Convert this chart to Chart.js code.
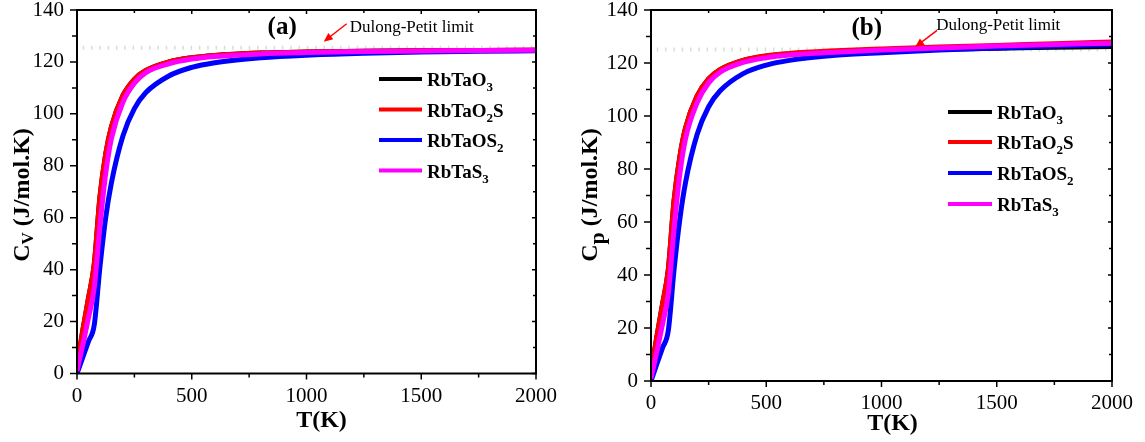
<!DOCTYPE html>
<html><head><meta charset="utf-8">
<script src="https://cdn.jsdelivr.net/npm/chart.js@4/dist/chart.umd.min.js"></script>
<style>
html,body{margin:0;padding:0;background:#fff;width:1145px;height:442px;overflow:hidden}
canvas{position:absolute;top:0}
#ca{left:0}
#cb{left:570px}
</style></head><body>
<canvas id="ca" width="565" height="442"></canvas>
<canvas id="cb" width="575" height="442"></canvas>
<script>
// ---------- data ----------
const temperature = [0,25,50,75,100,125,150,200,250,300,400,500,600,800,1000,1250,1500,1750,2000];
const seriesNames = ['RbTaO_3','RbTaO_2S','RbTaOS_2','RbTaS_3'];
const seriesColors = ['#000000','#ff0000','#0000ff','#ff00ff'];

// (a) Cv
const cvRbTaO3  = [3,16.5,29,42,68,84.5,95,107,113.3,116.7,120,121.6,122.5,123.4,123.8,124.1,124.3,124.4,124.5];
const cvRbTaO2S = [3,16.5,29,42,68,84.5,95,107,113.3,116.7,120,121.6,122.5,123.4,123.8,124.1,124.3,124.4,124.5];
const cvRbTaOS2 = [0,6.2,12.4,18.6,41,60,73.5,91.5,102,108.2,114.6,117.9,119.7,121.6,122.6,123.3,123.8,124.1,124.3];
const cvRbTaS3  = [1,11,21.5,33,57,77,90.5,104.5,111.8,115.9,119.3,121.1,122.1,123.1,123.6,124.0,124.2,124.4,124.5];

// (b) Cp
const cpRbTaO3  = [3,16.5,29,42,68,84.5,95.5,107.5,114,117.5,121,122.6,123.4,124.2,124.7,125.2,125.6,125.9,126.2];
const cpRbTaO2S = [3,16.5,29,42,68,84.5,95.5,107.5,114,117.5,121,122.7,123.6,124.6,125.3,126.0,126.6,127.3,127.9];
const cpRbTaOS2 = [0,6.3,12.5,19,42,61,75,93,103.5,109.5,116,119.2,121,122.9,123.9,124.9,125.7,126.4,127.0];
const cpRbTaS3  = [1,11,21.5,33,57.5,78,91.5,105,112.5,116.5,120.2,122,123,124.1,124.9,125.7,126.4,127.0,127.5];

// Dulong-Petit reference level
const dulongPetitT = [25,2000];
const dulongPetitCv = [125.5,125.5];
const dulongPetitCp = [125.1,125.1];

const xTicks = [0,500,1000,1500,2000];
const yTicks = [0,20,40,60,80,100,120,140];

// ---------- helpers ----------
const SERIF = '"Liberation Serif","Times New Roman",serif';
Chart.defaults.font.family = SERIF;
function pts(xs, ys){ return xs.map((x,i)=>({x:x,y:ys[i]})); }

function drawRich(ctx, segs, x, y){
  let cx = x;
  segs.forEach(s=>{
    ctx.font = 'bold '+s.size+'px '+SERIF;
    ctx.fillText(s.t, cx, y + (s.dy||0));
    cx += ctx.measureText(s.t).width;
  });
  return cx - x;
}
function richWidth(ctx, segs){
  let w=0;
  segs.forEach(s=>{ctx.font='bold '+s.size+'px '+SERIF; w+=ctx.measureText(s.t).width;});
  return w;
}
function parseLabel(lbl, size, subSize, subDy){
  const segs=[]; let i=0, buf='';
  while(i<lbl.length){
    if(lbl[i]==='_'){ if(buf){segs.push({t:buf,size:size});buf='';} segs.push({t:lbl[i+1],size:subSize,dy:subDy}); i+=2; }
    else { buf+=lbl[i]; i++; }
  }
  if(buf) segs.push({t:buf,size:size});
  return segs;
}

const decorPlugin = {
  id:'decor',
  afterDatasetsDraw(chart){
    const ctx = chart.ctx, a = chart.chartArea;
    const xs = chart.scales.x, ys = chart.scales.y;
    ctx.save();
    ctx.strokeStyle='#000'; ctx.lineWidth=2;
    ctx.strokeRect(a.left, a.top, a.right-a.left, a.bottom-a.top);
    ctx.lineWidth=1.5;
    for(let v=0; v<=140; v+=10){
      const y = ys.getPixelForValue(v);
      const major = v%20===0;
      ctx.beginPath();
      ctx.moveTo(a.left-(major?7:5), y); ctx.lineTo(a.left, y);
      ctx.moveTo(a.right, y); ctx.lineTo(a.right-(major?4:3), y);
      ctx.stroke();
    }
    for(let t=0; t<=2000; t+=250){
      const x = xs.getPixelForValue(t);
      const major = t%500===0;
      ctx.beginPath();
      ctx.moveTo(x, a.bottom); ctx.lineTo(x, a.bottom+(major?6:4));
      ctx.moveTo(x, a.top); ctx.lineTo(x, a.top+(major?4:3));
      ctx.stroke();
    }
    ctx.restore();
  },
  afterDraw(chart){
    const o = chart.options.plugins.decor;
    const ctx = chart.ctx, a = chart.chartArea;
    const xs = chart.scales.x, ys = chart.scales.y;
    ctx.save();
    ctx.fillStyle='#000';
    ctx.font='bold 25px '+SERIF; ctx.textAlign='center'; ctx.textBaseline='middle';
    ctx.fillText(o.panel, xs.getPixelForValue(o.panelT), ys.getPixelForValue(o.panelV));
    ctx.font='17px '+SERIF; ctx.textAlign='left'; ctx.textBaseline='middle';
    ctx.fillText('Dulong-Petit limit', xs.getPixelForValue(o.dpTextT), ys.getPixelForValue(o.dpTextV));
    const x1=xs.getPixelForValue(o.arrow[0]), y1=ys.getPixelForValue(o.arrow[1]);
    const x2=xs.getPixelForValue(o.arrow[2]), y2=ys.getPixelForValue(o.arrow[3]);
    ctx.strokeStyle='#ff0000'; ctx.fillStyle='#ff0000'; ctx.lineWidth=1.5;
    const ang=Math.atan2(y2-y1,x2-x1);
    ctx.beginPath(); ctx.moveTo(x1,y1); ctx.lineTo(x2-6*Math.cos(ang),y2-6*Math.sin(ang)); ctx.stroke();
    ctx.beginPath(); ctx.moveTo(x2,y2);
    ctx.lineTo(x2-9*Math.cos(ang)+4*Math.sin(ang), y2-9*Math.sin(ang)-4*Math.cos(ang));
    ctx.lineTo(x2-9*Math.cos(ang)-4*Math.sin(ang), y2-9*Math.sin(ang)+4*Math.cos(ang));
    ctx.closePath(); ctx.fill();
    ctx.fillStyle='#000'; ctx.textAlign='left'; ctx.textBaseline='alphabetic';
    seriesNames.forEach((n,i)=>{
      const y = o.legendRows[i];
      ctx.strokeStyle=seriesColors[i]; ctx.lineWidth=4;
      ctx.beginPath(); ctx.moveTo(o.legendX[0],y); ctx.lineTo(o.legendX[1],y); ctx.stroke();
      ctx.fillStyle='#000';
      drawRich(ctx, parseLabel(n,19,13,5), o.legendX[2], y+7);
    });
    ctx.font='bold 24px '+SERIF; ctx.textAlign='center'; ctx.textBaseline='middle';
    ctx.fillText('T(K)', (a.left+a.right)/2 + o.xTitleDx, o.xTitleY);
    ctx.translate(o.yTitle[0], o.yTitle[1]);
    ctx.rotate(-Math.PI/2);
    ctx.textAlign='left'; ctx.textBaseline='middle';
    const segs = o.ySegs;
    const w = richWidth(ctx, segs);
    drawRich(ctx, segs, -w/2, 0);
    ctx.restore();
  }
};

function buildChart(id, data4, dpVals, dims, decor){
  const datasets = [{
    label:'Dulong-Petit', data: pts(dulongPetitT, dpVals), borderColor:'#cfe4cf', borderWidth:4,
    borderDash:[1.5,6.8], pointRadius:0, fill:false, order:10
  }];
  data4.forEach((arr,i)=>{
    datasets.push({label:seriesNames[i], data:pts(temperature,arr), borderColor:seriesColors[i],
      borderWidth:5, pointRadius:0, fill:false, cubicInterpolationMode:'monotone', order:4-i});
  });
  const H = 442;
  return new Chart(document.getElementById(id), {
    type:'line',
    data:{datasets},
    options:{
      responsive:false, animation:false, devicePixelRatio:1,
      layout:{padding:{left:0, right:dims.W-dims.right, top:dims.top, bottom:0}},
      plugins:{legend:{display:false}, tooltip:{enabled:false}, decor:decor},
      scales:{
        x:{type:'linear', min:0, max:2000,
           afterFit:(s)=>{s.height = H-dims.bottom; s.paddingLeft=0; s.paddingRight=0;},
           afterBuildTicks:(s)=>{s.ticks = xTicks.map(v=>({value:v}));},
           grid:{display:false, drawTicks:false}, border:{display:false},
           ticks:{color:'#000', padding:10, maxRotation:0, autoSkip:false,
                  callback:(v)=>String(v), font:{family:SERIF,size:21}}},
        y:{type:'linear', min:0, max:140,
           afterFit:(s)=>{s.width = dims.left; s.paddingTop=0; s.paddingBottom=0;},
           afterBuildTicks:(s)=>{s.ticks = yTicks.map(v=>({value:v}));},
           grid:{display:false, drawTicks:false}, border:{display:false},
           ticks:{color:'#000', padding:13, autoSkip:false,
                  callback:(v)=>String(v), font:{family:SERIF,size:21}}}
      }
    },
    plugins:[decorPlugin]
  });
}

function buildAll(){
  buildChart('ca', [cvRbTaO3,cvRbTaO2S,cvRbTaOS2,cvRbTaS3], dulongPetitCv,
    {W:565,left:77,right:536,top:10,bottom:373.5},
    {panel:'(a)', panelT:894, panelV:133.1, dpTextT:1188, dpTextV:133.3,
     arrow:[1175,134.7,1075,127.8],
     legendX:[379,422,427], legendRows:[79,109.5,140,170.5],
     xTitleDx:15, xTitleY:421, yTitle:[23,195],
     ySegs:[{t:'C',size:24},{t:'V',size:17,dy:6},{t:' (J/mol.K)',size:24}]});

  buildChart('cb', [cpRbTaO3,cpRbTaO2S,cpRbTaOS2,cpRbTaS3], dulongPetitCp,
    {W:575,left:81,right:542,top:10,bottom:381},
    {panel:'(b)', panelT:936, panelV:133.1, dpTextT:1237, dpTextV:134.2,
     arrow:[1241,132.3,1146,126],
     legendX:[378,422,427], legendRows:[112,142,173,204],
     xTitleDx:11, xTitleY:424, yTitle:[21,195],
     ySegs:[{t:'C',size:24},{t:'p',size:22,dy:7},{t:' (J/mol.K)',size:24}]});
}
if (document.fonts && document.fonts.load) {
  Promise.all([
    document.fonts.load('21px "Liberation Serif"'),
    document.fonts.load('bold 24px "Liberation Serif"')
  ]).then(buildAll, buildAll);
} else { buildAll(); }
</script>
</body></html>
